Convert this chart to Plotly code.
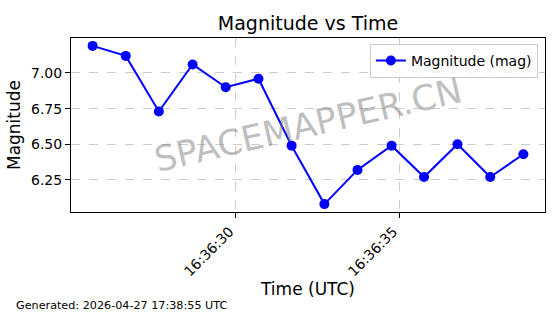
import plotly.graph_objects as go

times = [
    "2026-04-27 16:36:25.64", "2026-04-27 16:36:26.65", "2026-04-27 16:36:27.66",
    "2026-04-27 16:36:28.69", "2026-04-27 16:36:29.70", "2026-04-27 16:36:30.70",
    "2026-04-27 16:36:31.71", "2026-04-27 16:36:32.71", "2026-04-27 16:36:33.72",
    "2026-04-27 16:36:34.76", "2026-04-27 16:36:35.75", "2026-04-27 16:36:36.77",
    "2026-04-27 16:36:37.77", "2026-04-27 16:36:38.78",
]
magnitudes = [7.19, 7.12, 6.73, 7.06, 6.90, 6.96, 6.49, 6.08, 6.32, 6.49, 6.27, 6.50, 6.27, 6.43]
y_ticks = [6.25, 6.50, 6.75, 7.00]
x_ticks = ["2026-04-27 16:36:30", "2026-04-27 16:36:35"]
x_tick_labels = ["16:36:30", "16:36:35"]
x_range = ["2026-04-27 16:36:24.98", "2026-04-27 16:36:39.44"]
y_range = [6.0245, 7.2455]

FONT = "DejaVu Sans"

fig = go.Figure()
fig.add_trace(go.Scatter(
    x=times, y=magnitudes, mode="lines+markers", name="Magnitude (mag)",
    line=dict(color="#0000ff", width=2),
    marker=dict(color="#0000ff", size=10),
))

axis_common = dict(
    showline=True, linecolor="black", linewidth=1, mirror=True,
    ticks="outside", ticklen=5, tickcolor="black", tickwidth=1,
    showgrid=True, gridcolor="#cccccc", griddash="dash", gridwidth=1,
    zeroline=False, tickfont=dict(family=FONT, size=14, color="black"),
)

fig.update_layout(
    width=560, height=314,
    margin=dict(l=71, r=15, t=38, b=102),
    paper_bgcolor="white", plot_bgcolor="white",
    font=dict(family=FONT, color="black"),
    title=dict(text="Magnitude vs Time", x=(71 + 545) / 2 / 560, xanchor="center",
               y=1 - 23 / 314, yanchor="middle", font=dict(family=FONT, size=19)),
    xaxis=dict(type="date", range=x_range, tickvals=x_ticks, ticktext=x_tick_labels,
               tickangle=-45, ticklabelshift=-6,
               title=dict(text="Time (UTC)", font=dict(family=FONT, size=17), standoff=3),
               **axis_common),
    yaxis=dict(range=y_range, tickvals=y_ticks, tickformat=".2f",
               title=dict(text="Magnitude", font=dict(family=FONT, size=17), standoff=6),
               **axis_common),
    showlegend=True,
    legend=dict(x=0.985, y=0.966, xanchor="right", yanchor="top",
                bgcolor="rgba(255,255,255,0.8)", bordercolor="#cccccc", borderwidth=1,
                font=dict(family=FONT, size=14)),
    annotations=[
        dict(text="SPACEMAPPER.CN", xref="paper", yref="paper", x=0.5, y=0.5,
             showarrow=False, textangle=-13,
             font=dict(family=FONT, size=35, color="rgba(128,128,128,0.5)")),
        dict(text="Generated: 2026-04-27 17:38:55 UTC", xref="paper", yref="paper",
             x=(14 - 71) / 474, y=(212 - 305) / 174, xanchor="left", yanchor="middle",
             showarrow=False, font=dict(family=FONT, size=11.2, color="black")),
    ],
)

fig.write_html("out.html")
